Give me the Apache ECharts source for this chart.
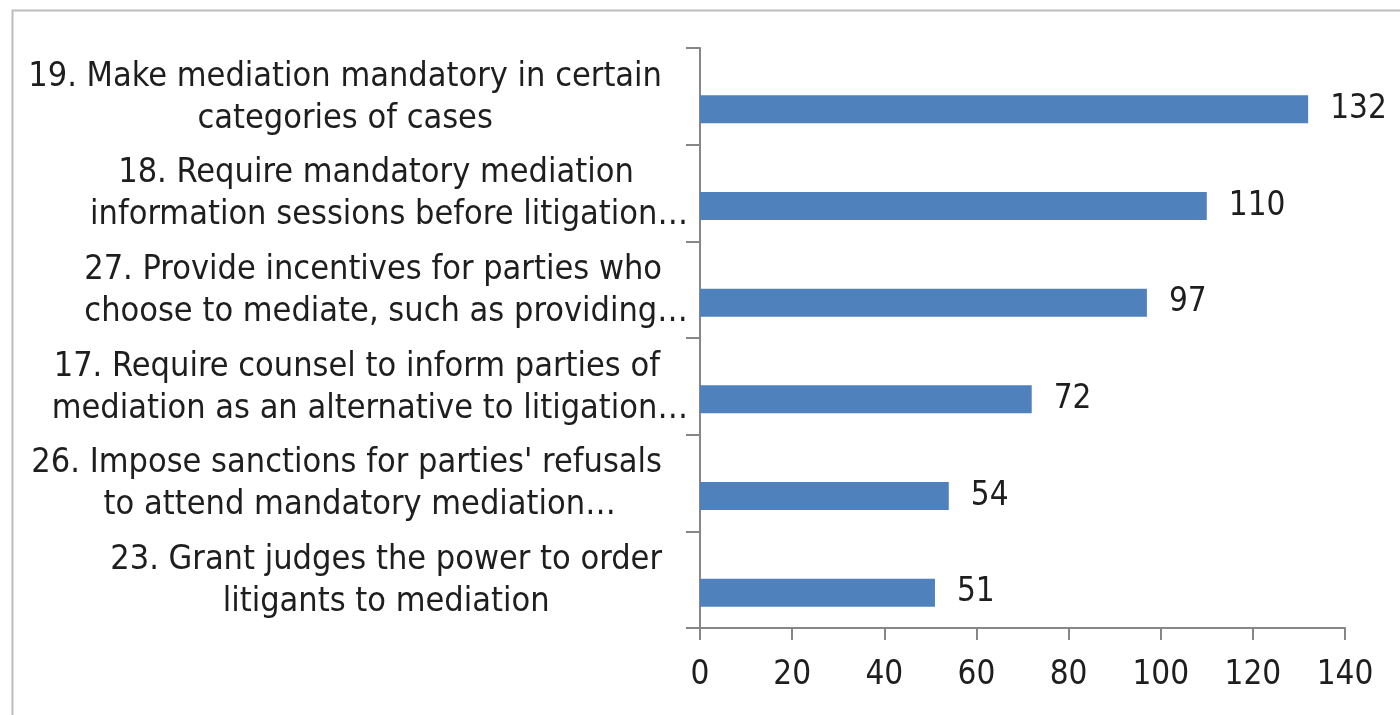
<!DOCTYPE html>
<html>
<head>
<meta charset="utf-8">
<script src="https://cdn.jsdelivr.net/npm/echarts@6/dist/echarts.min.js"></script>
<style>
html,body{margin:0;padding:0;background:#fff;}
#chart{width:1400px;height:715px;}
</style>
</head>
<body>
<div id="chart"></div>
<script>
const categories = [
  "19. Make mediation mandatory in certain\ncategories of cases",
  "18. Require mandatory mediation\ninformation sessions before litigation…",
  "27. Provide incentives for parties who\nchoose to mediate, such as providing…",
  "17. Require counsel to inform parties of\nmediation as an alternative to litigation…",
  "26. Impose sanctions for parties' refusals\nto attend mandatory mediation…",
  "23. Grant judges the power to order\nlitigants to mediation"
];
const values = [132, 110, 97, 72, 54, 51];
const xTicks = { min: 0, max: 140, interval: 20 };

const FONT = "'Liberation Sans Narrow', 'DejaVu Sans Condensed', 'Liberation Sans', sans-serif";
const TXT = '#1e1e1e';
const AX = '#868686';
const LBL = { fontSize: 34, fontFamily: FONT, color: TXT, lineHeight: 42, align: 'center' };

const chart = echarts.init(document.getElementById('chart'));
chart.setOption({
  animation: false,
  backgroundColor: '#fff',
  graphic: [{
    type: 'rect', left: 10, top: 8,
    shape: { width: 1400, height: 720 },
    style: { fill: 'none', stroke: '#bdbdbd', lineWidth: 2 },
    silent: true
  }],
  grid: [
    { left: 700, right: 55, top: 48, bottom: 87 },
    { left: 700, right: 55, top: 61, bottom: 74 }
  ],
  xAxis: [
    {
      gridIndex: 0, type: 'value', min: xTicks.min, max: xTicks.max, interval: xTicks.interval,
      splitLine: { show: false },
      axisLine: { show: true, lineStyle: { color: AX, width: 2 } },
      axisTick: { show: true, length: 12, lineStyle: { color: AX, width: 2 } },
      axisLabel: { margin: 31, fontSize: 33, fontFamily: FONT, color: TXT }
    },
    {
      gridIndex: 1, type: 'value', min: xTicks.min, max: xTicks.max, show: false
    }
  ],
  yAxis: [
    {
      gridIndex: 0, type: 'category', inverse: true, data: categories,
      axisLine: { show: true, lineStyle: { color: AX, width: 2 } },
      axisTick: { show: true, length: 14, lineStyle: { color: AX, width: 2 } },
      axisLabel: {
        margin: 12,
        formatter: v => v.split('\n').map(l => (l.endsWith('…') ? '{e|' : '{c|') + l + '}').join('\n'),
        rich: {
          c: Object.assign({}, LBL, { padding: [3, 26, 0, 0] }),
          e: Object.assign({}, LBL, { padding: [3, 0, 0, 0] })
        }
      }
    },
    {
      gridIndex: 1, type: 'category', inverse: true, data: categories, show: false
    }
  ],
  series: [{
    type: 'bar', xAxisIndex: 1, yAxisIndex: 1, data: values,
    barWidth: 28,
    itemStyle: { color: '#4F81BD' },
    label: { show: true, position: 'right', distance: 22, fontSize: 33, fontFamily: FONT, color: TXT }
  }]
});
</script>
</body>
</html>
